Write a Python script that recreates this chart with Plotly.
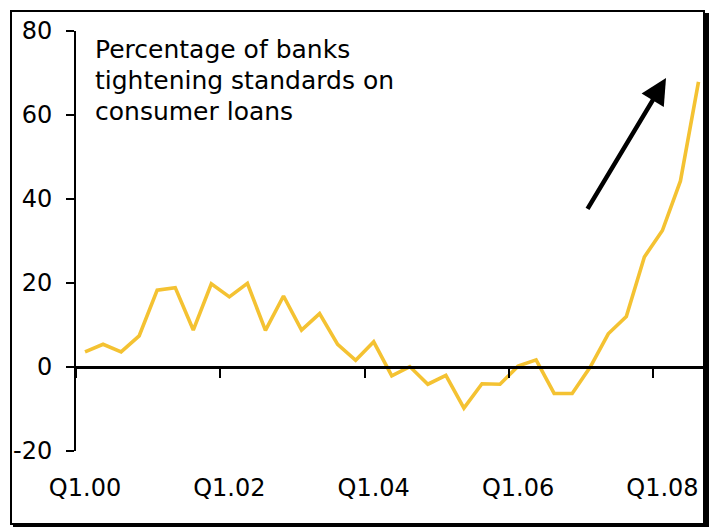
import plotly.graph_objects as go

quarters = ["Q1.00","Q2.00","Q3.00","Q4.00","Q1.01","Q2.01","Q3.01","Q4.01",
            "Q1.02","Q2.02","Q3.02","Q4.02","Q1.03","Q2.03","Q3.03","Q4.03",
            "Q1.04","Q2.04","Q3.04","Q4.04","Q1.05","Q2.05","Q3.05","Q4.05",
            "Q1.06","Q2.06","Q3.06","Q4.06","Q1.07","Q2.07","Q3.07","Q4.07",
            "Q1.08","Q2.08","Q3.08"]
tightening = [3.6, 5.4, 3.6, 7.4, 18.3, 18.9, 8.8, 19.8,
              16.7, 19.9, 8.7, 16.9, 8.8, 12.7, 5.4, 1.6,
              6.0, -2.1, 0.1, -4.1, -2.0, -9.8, -4.0, -4.1,
              0.2, 1.7, -6.3, -6.3, 0.0, 7.9, 12.0, 26.2,
              32.5, 44.3, 67.9]
label_quarters = ["Q1.00", "Q1.02", "Q1.04", "Q1.06", "Q1.08"]
y_ticks = [-20, 0, 20, 40, 60, 80]
y_ticktext = ["-20", "0", "20", "40", "60", "80"]
note_lines = ["Percentage of banks", "tightening standards on", "consumer loans"]

xs = list(range(len(quarters)))
label_pos = [quarters.index(q) for q in label_quarters]
boundary_pos = [p - 0.5 for p in label_pos]

FONT = "DejaVu Sans"
xr = [-0.5, 34.25]

fig = go.Figure()
fig.add_trace(go.Scatter(x=xs, y=tightening, mode="lines",
                         line=dict(color="#F4C232", width=3.6),
                         xaxis="x2", yaxis="y", hoverinfo="skip", showlegend=False))
fig.add_trace(go.Scatter(x=[xs[0]], y=[tightening[0]], mode="markers",
                         marker=dict(opacity=0), xaxis="x", yaxis="y",
                         hoverinfo="skip", showlegend=False))

fig.update_layout(
    width=715, height=527,
    margin=dict(l=76, r=12, t=31, b=76),
    paper_bgcolor="white", plot_bgcolor="white",
    font=dict(family=FONT, size=24, color="black"),
    xaxis=dict(range=xr, tickmode="array", tickvals=label_pos, ticktext=label_quarters,
               showgrid=False, zeroline=False, showline=False, ticks="",
               ticklabelstandoff=20, tickfont=dict(size=24), automargin=False),
    xaxis2=dict(range=xr, overlaying="x", anchor="free", position=0.2, side="bottom",
                tickmode="array", tickvals=boundary_pos, showticklabels=False,
                ticks="outside", ticklen=9, tickwidth=2, tickcolor="black",
                showline=True, linecolor="black", linewidth=2.5,
                showgrid=False, zeroline=False, automargin=False),
    yaxis=dict(range=[-20, 80], tickmode="array", tickvals=y_ticks, ticktext=y_ticktext,
               showgrid=False, zeroline=False, showline=True, linecolor="black",
               linewidth=2, ticks="outside", ticklen=8, tickwidth=2, tickcolor="black",
               ticklabelstandoff=9, tickfont=dict(size=24), automargin=False),
)

def px2x(px):
    return (px - 76) / 627.0

def py2y(py):
    return (451 - py) / 420.0

# frame and drop shadow
fig.add_shape(type="rect", xref="paper", yref="paper",
              x0=px2x(705), x1=px2x(709), y0=py2y(527), y1=py2y(13),
              fillcolor="black", line=dict(width=0), layer="below")
fig.add_shape(type="rect", xref="paper", yref="paper",
              x0=px2x(13), x1=px2x(709), y0=py2y(527), y1=py2y(523),
              fillcolor="black", line=dict(width=0), layer="below")
fig.add_shape(type="rect", xref="paper", yref="paper",
              x0=px2x(11), x1=px2x(704), y0=py2y(524), y1=py2y(11),
              line=dict(color="black", width=2), layer="above")

for i, line in enumerate(note_lines):
    fig.add_annotation(xref="paper", yref="paper", x=px2x(93), y=py2y(50 + 30.5 * i),
                       xanchor="left", yanchor="middle", align="left", showarrow=False,
                       text=line, font=dict(family=FONT, size=25, color="black"))

fig.add_annotation(xref="x2", yref="y", x=32.2, y=68.8, ax=27.8, ay=37.3,
                   axref="x2", ayref="y", text="", showarrow=True,
                   arrowhead=2, arrowsize=1.15, arrowwidth=4.5, arrowcolor="black")

fig.write_html("out.html")
